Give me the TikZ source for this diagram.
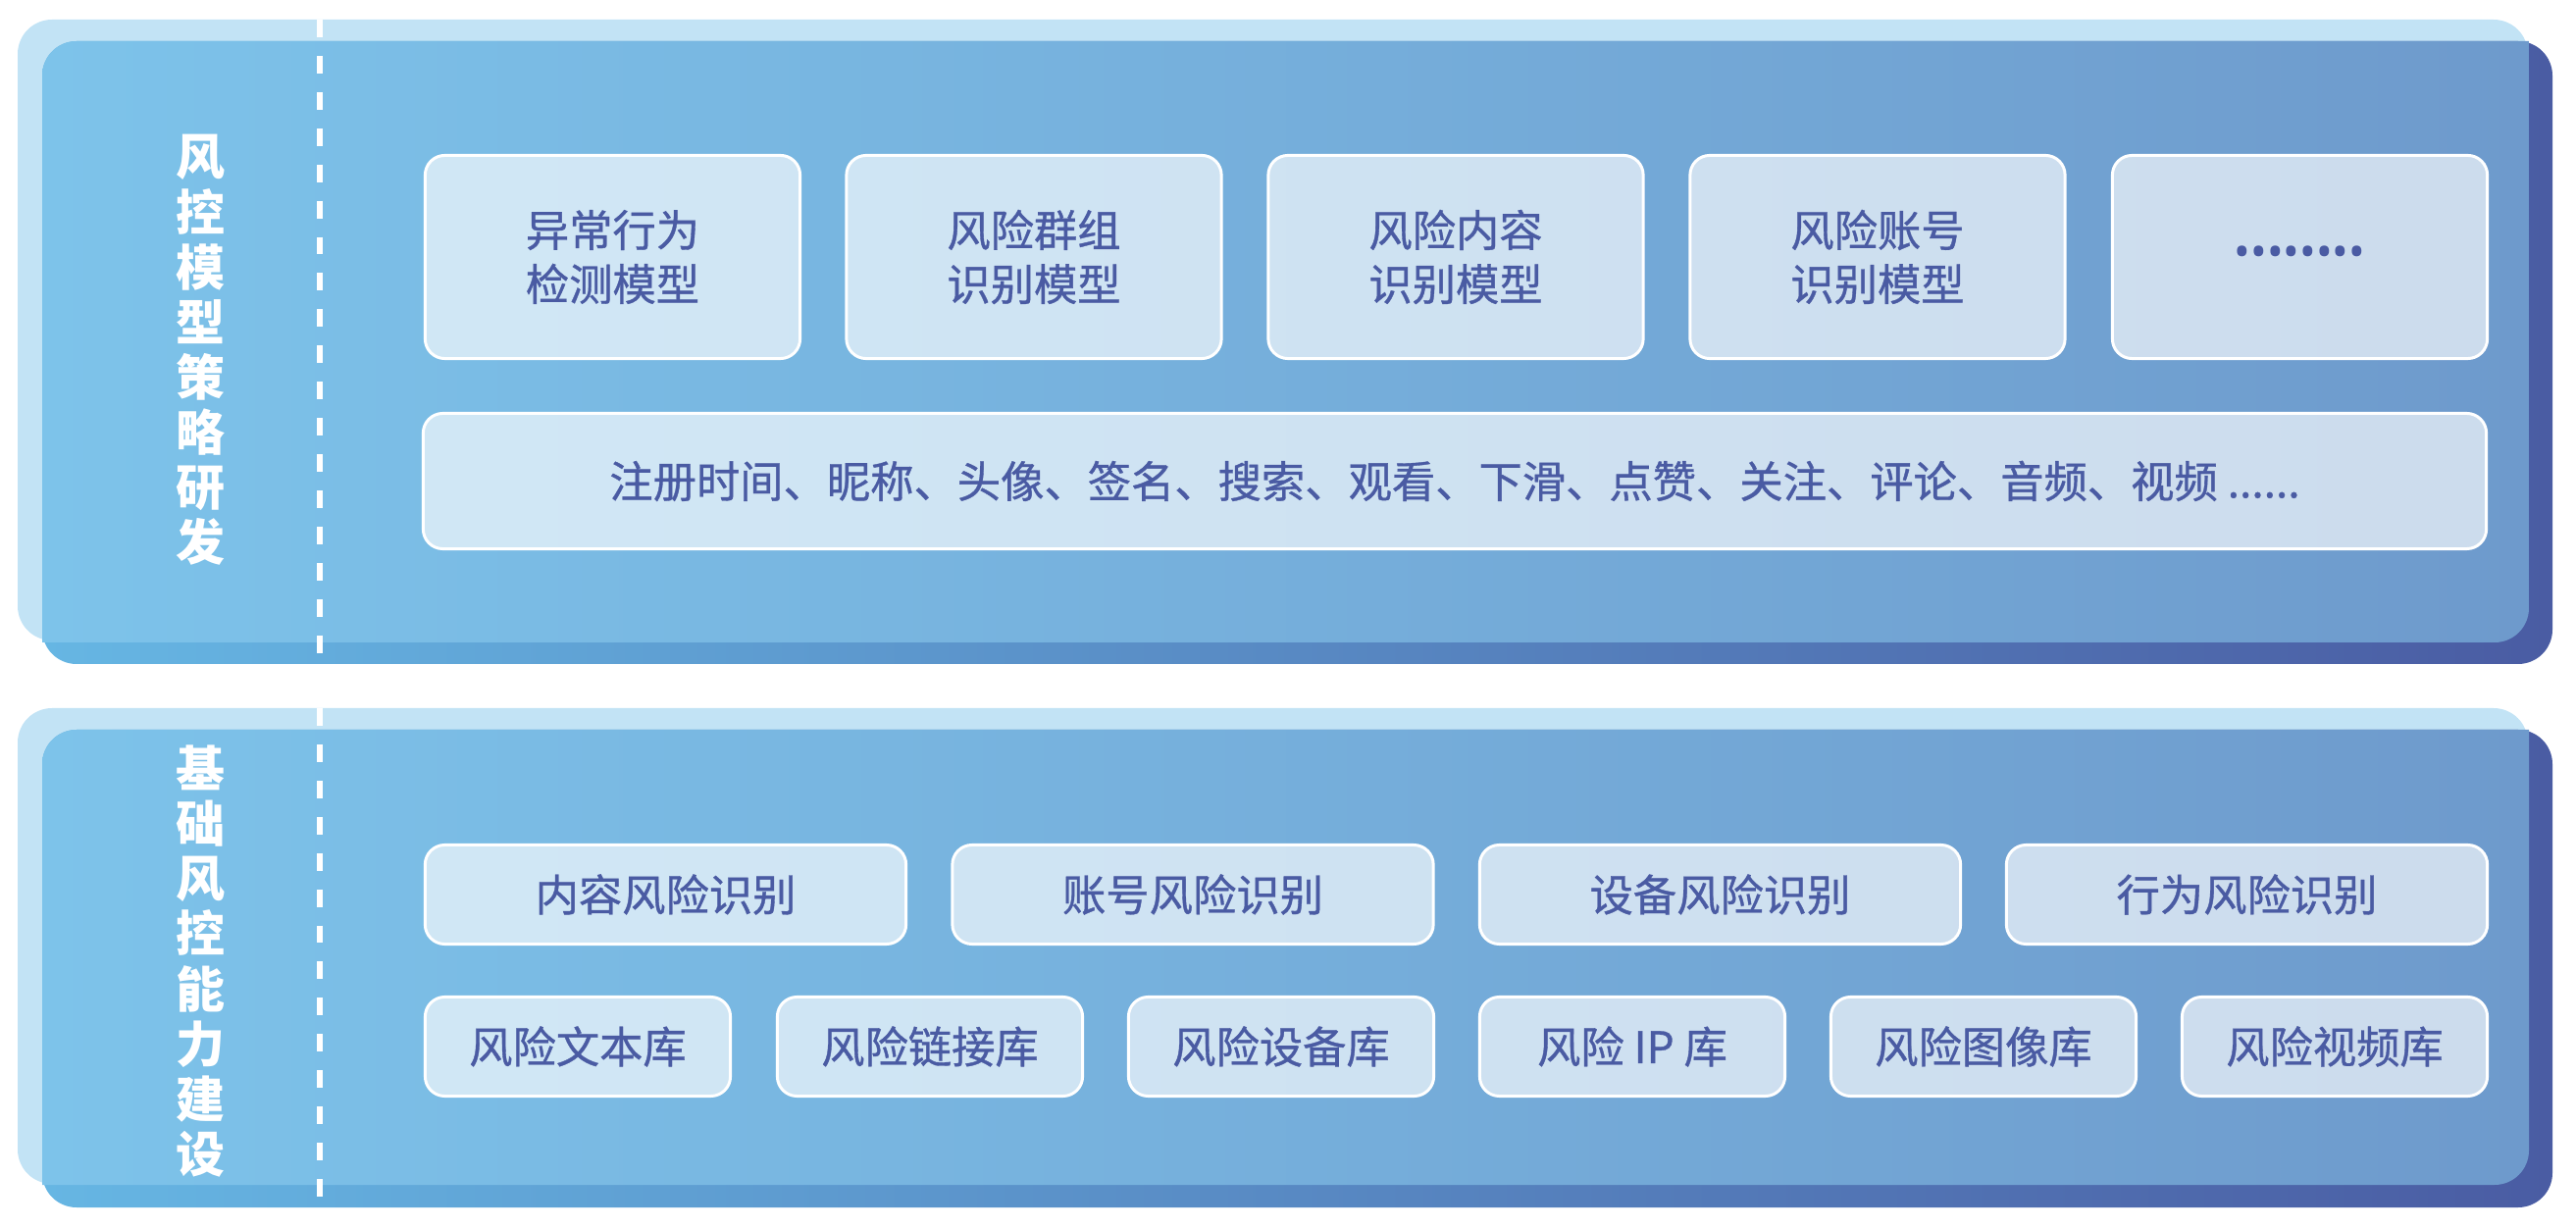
\documentclass[tikz,border=0pt]{standalone}
\usepackage{fontspec}
\setmainfont{Noto Sans CJK SC}
\newfontfamily\cjkmed{Noto Sans CJK SC}[FakeBold=0.8]
\newfontfamily\dotfont{Noto Sans}
\usepackage{tikz}

\definecolor{backblue}{HTML}{C2E3F5}
\definecolor{panelleft}{HTML}{7DC3EA}
\definecolor{panelright}{HTML}{6E9ACC}
\definecolor{shadeleft}{HTML}{66B6E3}
\definecolor{shaderight}{HTML}{4A5CA3}
\definecolor{inktext}{HTML}{4A5BA3}

\newcommand{\inkfont}{\cjkmed\fontsize{12.6}{15.65}\selectfont}
\newcommand{\sidefont}{\bfseries\fontsize{14.2}{15.95}\selectfont}

\begin{document}
\begin{tikzpicture}[x=0.01cm, y=-0.01cm,
    box/.style={draw=white, line width=0.85pt, rounded corners=0.2cm,
      fill=white, fill opacity=0.65, text opacity=1, text=inktext,
      font=\inkfont, align=center, inner sep=0pt},
    modelbox/.style={box, minimum width=3.82cm, minimum height=2.07cm},
    featurebar/.style={box, minimum width=21.02cm, minimum height=1.38cm},
    skillbox/.style={box, minimum width=4.9cm, minimum height=1.01cm},
    libbox/.style={box, minimum width=3.11cm, minimum height=1.01cm},
    sidelabel/.style={text=white, font=\sidefont, align=center, inner sep=0pt},
    divider/.style={white, line width=1.45pt, dash pattern=on 5.1pt off 5.4pt}]
      %picture is measured in pixels of the original, y runs downwards
    \useasboundingbox (0,0) rectangle (2626,1252);

      %upper panel: pale layer behind, dark layer below right, gradient on top
    \fill[backblue, rounded corners=0.35cm] (18,20) rectangle (2577,653);
    \shade[left color=shadeleft, right color=shaderight, rounded corners=0.35cm]
      (43,42) rectangle (2602,677);
    \shade[left color=panelleft, right color=panelright]
      (43,42) [rounded corners=0.35cm] rectangle (2578,655)
      [sharp corners] (1300,42) rectangle (2578,300) (43,400) rectangle (1300,655);

      %lower panel
    \fill[backblue, rounded corners=0.35cm] (18,722) rectangle (2577,1207);
    \shade[left color=shadeleft, right color=shaderight, rounded corners=0.35cm]
      (43,744) rectangle (2602,1231);
    \shade[left color=panelleft, right color=panelright]
      (43,744) [rounded corners=0.35cm] rectangle (2578,1208)
      [sharp corners] (1300,744) rectangle (2578,950) (43,1000) rectangle (1300,1208);

    \coordinate (divTopA) at (326,20);
    \coordinate (divTopB) at (326,677);
    \coordinate (divBotA) at (326,722);
    \coordinate (divBotB) at (326,1231);
    \draw[divider] (divTopA) -- (divTopB);
    \draw[divider] (divBotA) -- (divBotB);

    \node[sidelabel] (modelLabel) at (204,357) {风\\控\\模\\型\\策\\略\\研\\发};
    \node[sidelabel] (baseLabel) at (204,980) {基\\础\\风\\控\\能\\力\\建\\设};

    \node[modelbox] (anomaly) at (624.5,262) {异常行为\\检测模型};
    \node[modelbox] (group) at (1054,262) {风险群组\\识别模型};
    \node[modelbox] (content) at (1484,262) {风险内容\\识别模型};
    \node[modelbox] (account) at (1914,262) {风险账号\\识别模型};
    \node[modelbox] (more) at (2344.5,262) {{\dotfont ••••••••}};
    \node[featurebar] (features) at (1483,490.5)
      {注册时间、昵称、头像、签名、搜索、观看、下滑、点赞、关注、评论、音频、视频 ......};

    \node[skillbox] (contentRisk) at (678.5,912) {内容风险识别};
    \node[skillbox] (accountRisk) at (1216,912) {账号风险识别};
    \node[skillbox] (deviceRisk) at (1753.5,912) {设备风险识别};
    \node[skillbox] (behaviorRisk) at (2290.5,912) {行为风险识别};

    \node[libbox] (textLib) at (589,1067) {风险文本库};
    \node[libbox] (linkLib) at (948,1067) {风险链接库};
    \node[libbox] (deviceLib) at (1306,1067) {风险设备库};
    \node[libbox] (ipLib) at (1664,1067) {风险 IP 库};
    \node[libbox] (imageLib) at (2022,1067) {风险图像库};
    \node[libbox] (videoLib) at (2380,1067) {风险视频库};
\end{tikzpicture}
\end{document}
